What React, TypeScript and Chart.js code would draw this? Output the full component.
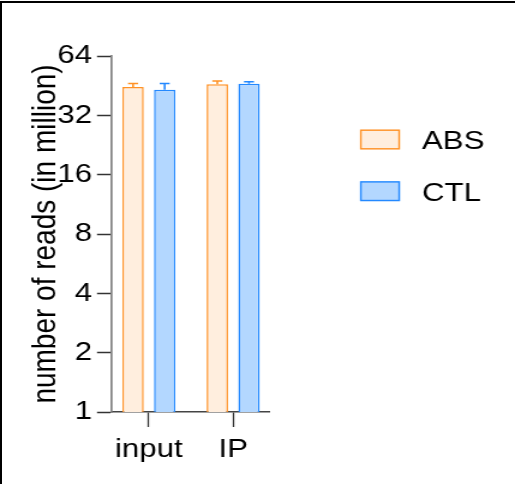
import React, { useEffect, useRef } from "react";
import { Chart, registerables } from "chart.js";

Chart.register(...registerables);

const categories = ["input", "IP"];
const seriesNames = ["ABS", "CTL"];
const absMeans = [44.6, 46.0];
const absErrTop = [46.4, 47.8];
const ctlMeans = [43.2, 46.3];
const ctlErrTop = [46.4, 47.4];
const yTicks = [1, 2, 4, 8, 16, 32, 64];
const yTitle = "number of reads (in million)";

const FONT = "'Liberation Sans', Arial, sans-serif";
const colors = {
  absFill: "#FFEEDE",
  absBorder: "#FF9226",
  ctlFill: "#B3D7FF",
  ctlBorder: "#2489FF",
};

// The reference is horizontally stretched; draw on a narrower canvas and stretch it with CSS.
const VIEW_W = 515;
const VIEW_H = 484;
const SX = 1.2;
const CANVAS_W = Math.round(VIEW_W / SX);
const sx = (v: number) => v / (VIEW_W / CANVAS_W);

const errorBarPlugin = {
  id: "errorBars",
  afterDatasetsDraw(chart: any) {
    const ctx = chart.ctx;
    const yScale = chart.scales.y;
    chart.data.datasets.forEach((ds: any, di: number) => {
      const meta = chart.getDatasetMeta(di);
      meta.data.forEach((el: any, i: number) => {
        const top = yScale.getPixelForValue(ds.errTop[i]);
        ctx.save();
        ctx.strokeStyle = ds.borderColor;
        ctx.lineWidth = 1.6;
        ctx.beginPath();
        ctx.moveTo(el.x, el.y);
        ctx.lineTo(el.x, top);
        ctx.moveTo(el.x - sx(5), top);
        ctx.lineTo(el.x + sx(5), top);
        ctx.stroke();
        ctx.restore();
      });
    });
  },
};

const legendPlugin = {
  id: "customLegend",
  afterDraw(chart: any) {
    const ctx = chart.ctx;
    const x0 = sx(360);
    const y0 = 129.5;
    chart.data.datasets.forEach((ds: any, i: number) => {
      const y = y0 + i * 51.7;
      ctx.save();
      ctx.fillStyle = ds.backgroundColor;
      ctx.fillRect(x0, y, sx(40), 20);
      ctx.strokeStyle = ds.borderColor;
      ctx.lineWidth = 1.4;
      ctx.strokeRect(x0 + 0.7, y + 0.7, sx(40) - 1.4, 18.6);
      ctx.fillStyle = "#000";
      ctx.font = `26px ${FONT}`;
      ctx.textBaseline = "middle";
      ctx.textAlign = "left";
      ctx.fillText(ds.label, sx(422), y + 12.5);
      ctx.restore();
    });
  },
};

export default function App() {
  const ref = useRef<HTMLCanvasElement>(null);

  useEffect(() => {
    if (!ref.current) return;
    Chart.defaults.font.family = FONT;
    const chart = new Chart(ref.current, {
      type: "bar",
      data: {
        datasets: [
          {
            label: seriesNames[0],
            data: absMeans.map((v, i) => ({ x: i, y: v })),
            errTop: absErrTop,
            backgroundColor: colors.absFill,
            borderColor: colors.absBorder,
            borderWidth: 1.5,
          } as any,
          {
            label: seriesNames[1],
            data: ctlMeans.map((v, i) => ({ x: i, y: v })),
            errTop: ctlErrTop,
            backgroundColor: colors.ctlFill,
            borderColor: colors.ctlBorder,
            borderWidth: 1.5,
          } as any,
        ],
      },
      options: {
        animation: false,
        responsive: false,
        devicePixelRatio: 1,
        categoryPercentage: 0.751,
        barPercentage: 0.676,
        layout: { padding: { left: 0, top: 56, right: sx(245), bottom: 0 } },
        plugins: {
          legend: { display: false },
          tooltip: { enabled: false },
        },
        scales: {
          x: {
            type: "linear",
            offset: false,
            min: -0.437,
            max: 1.437,
            afterBuildTicks: (s: any) => {
              s.ticks = categories.map((_, i) => ({ value: i }));
            },
            afterFit: (s: any) => {
              s.height = 72;
              s.paddingLeft = 0;
              s.paddingRight = 0;
            },
            ticks: {
              callback: (v: any) => categories[v] ?? "",
              color: "#000",
              font: { size: 26 },
              padding: 7,
              maxRotation: 0,
              autoSkip: false,
            },
            grid: {
              offset: false,
              drawOnChartArea: false,
              drawTicks: true,
              tickLength: 15,
              tickColor: "#333",
              tickWidth: 1.3,
            },
            border: { color: "#444", width: 1.5 },
          },
          y: {
            type: "logarithmic",
            min: 1,
            max: 64,
            afterBuildTicks: (s: any) => {
              s.ticks = yTicks.map((v) => ({ value: v }));
            },
            afterFit: (s: any) => {
              s.width = sx(112);
              s.paddingTop = 0;
              s.paddingBottom = 0;
            },
            ticks: {
              callback: (v: any) => String(v),
              color: "#000",
              font: { size: 26 },
              padding: sx(5),
              autoSkip: false,
            },
            grid: {
              drawOnChartArea: false,
              drawTicks: true,
              tickLength: sx(15),
              tickColor: "#333",
              tickWidth: 1.5,
            },
            border: { color: "#808080", width: 1.7 },
            title: {
              display: true,
              text: yTitle,
              color: "#000",
              font: { size: 28 },
              padding: { top: 21, bottom: 0 },
            },
          },
        },
      },
      plugins: [errorBarPlugin, legendPlugin],
    } as any);
    return () => chart.destroy();
  }, []);

  return (
    <div style={{ position: "fixed", left: 0, top: 0, width: VIEW_W, height: VIEW_H, background: "#fff", overflow: "hidden" }}>
      <canvas
        ref={ref}
        width={CANVAS_W}
        height={VIEW_H}
        style={{ position: "absolute", left: 0, top: 0, width: VIEW_W + "px", height: VIEW_H + "px" }}
      />
      <div
        style={{
          position: "absolute",
          left: 0,
          top: 1,
          width: 600,
          height: 600,
          borderTop: "2px solid #000",
          borderLeft: "2px solid #000",
          pointerEvents: "none",
        }}
      />
    </div>
  );
}
